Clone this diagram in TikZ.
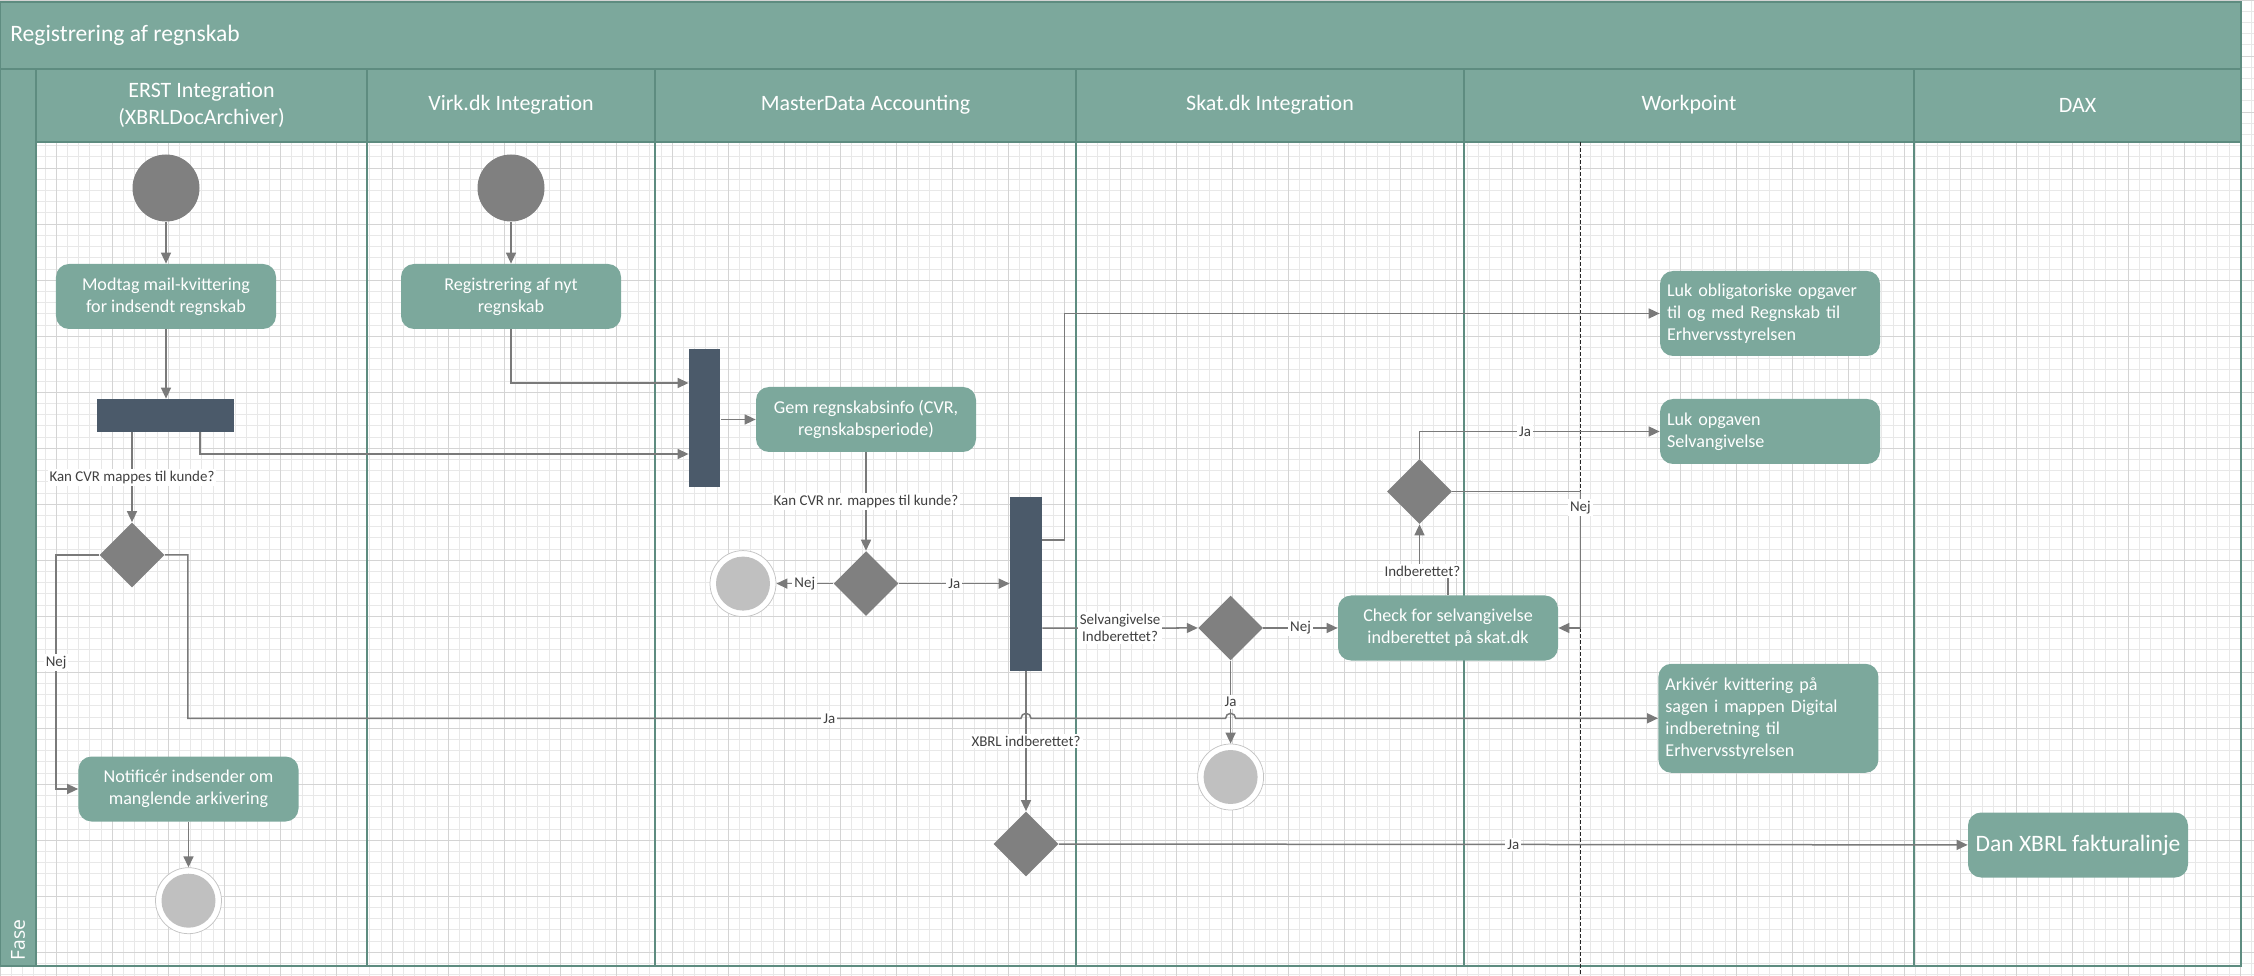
\documentclass[tikz,border=0pt]{standalone}
\usepackage{fontspec}
\setmainfont{Carlito}
\newfontfamily\fasefont{Open Sans}
\usetikzlibrary{shapes.geometric}
\usetikzlibrary{arrows.meta}

\definecolor{headfill}{HTML}{7CA89C}
\definecolor{lanecol}{HTML}{5E8C80}
\definecolor{actfill}{HTML}{7CA89C}
\definecolor{barfill}{HTML}{4B5A6A}
\definecolor{decfill}{HTML}{808080}
\definecolor{stopfill}{HTML}{C0C0C0}
\definecolor{ringcol}{HTML}{C4C4C4}
\definecolor{flowcol}{HTML}{7A7A7A}
\definecolor{guardtext}{HTML}{404040}

\tikzstyle{gridminor}=[draw=black!9,line width=0.12mm,step=2.24mm]
\tikzstyle{gridmajor}=[draw=black!17,line width=0.12mm,step=11.2mm]
\tikzstyle{laneline}=[draw=lanecol,line width=0.35mm]
\tikzstyle{headtext}=[text=white,align=center,font=\fontsize{12.5}{15.5}\selectfont]
\tikzstyle{activity}=[rectangle,rounded corners=2.6mm,fill=actfill,text=white,align=center,minimum width=44mm,minimum height=13mm,inner sep=1mm,font=\fontsize{10.3}{12.5}\selectfont]
\tikzstyle{activityl}=[activity,align=left,text width=41.2mm,inner sep=1.4mm]
\tikzstyle{forkbar}=[rectangle,fill=barfill,inner sep=0]
\tikzstyle{decision}=[diamond,fill=decfill,minimum width=13mm,minimum height=13mm,inner sep=0]
\tikzstyle{startdot}=[circle,fill=decfill,minimum size=13.4mm,inner sep=0]
\tikzstyle{enddot}=[circle,draw=ringcol,fill=white,line width=0.15mm,minimum size=13.2mm,inner sep=0,path picture={\fill[stopfill] (path picture bounding box.center) circle (5.4mm);}]
\tikzstyle{flow}=[draw=flowcol,line width=0.3mm,-{Triangle[length=2.2mm,width=2mm]}]
\tikzstyle{guard}=[fill=white,text=guardtext,inner sep=0.4mm,align=center,font=\fontsize{8.5}{10}\selectfont]

\begin{document}
\begin{tikzpicture}[x=0.2mm,y=-0.2mm]
\useasboundingbox (0,0) rectangle (2254,976);

% grid
\draw[gridminor] (0,0) grid (2254,976);
\draw[gridmajor] (0,0) grid (2254,976);

% pool and lanes
\fill[headfill] (0,2) rectangle (2241,142);
\fill[headfill] (0,69) rectangle (36,966);
\draw[laneline] (0,69) -- (2241,69);
\draw[laneline] (36,142) -- (2241,142);
\draw[laneline] (36,69) -- (36,966);
\draw[laneline] (367,69) -- (367,966);
\draw[laneline] (655,69) -- (655,966);
\draw[laneline] (1076,69) -- (1076,966);
\draw[laneline] (1464,69) -- (1464,966);
\draw[laneline] (1914,69) -- (1914,966);
\draw[laneline] (0,2) rectangle (2241,966);
\draw[black!85,line width=0.15mm,dash pattern=on 0.8mm off 0.4mm] (1580,142) -- (1580,976);

\node[headtext,anchor=west,inner sep=0,font=\fontsize{13.4}{16}\selectfont] (title) at (10,35) {Registrering af regnskab};
\node[headtext] (hErst) at (201.5,105) {ERST Integration\\(XBRLDocArchiver)};
\node[headtext] (hVirk) at (511,105) {Virk.dk Integration};
\node[headtext] (hMaster) at (865.5,105) {MasterData Accounting};
\node[headtext] (hSkat) at (1270,105) {Skat.dk Integration};
\node[headtext] (hWork) at (1689,105) {Workpoint};
\node[headtext] (hDax) at (2077.5,105) {DAX};
\node[text=white,rotate=90,font=\fasefont\fontsize{11}{13}\selectfont] (fase) at (18,940) {Fase};

% ERST Integration
\node[startdot] (erstStart) at (166,188) {};
\node[activity] (modtag) at (166,296.5) {Modtag mail-kvittering\\for indsendt regnskab};
\node[forkbar,minimum width=27.4mm,minimum height=6.6mm] (erstFork) at (165.5,415.5) {};
\node[decision] (cvrDec) at (132,555) {};
\node[activity] (notif) at (188.5,789) {Notificér indsender om\\manglende arkivering};
\node[enddot] (erstEnd) at (188.5,900.7) {};

% Virk.dk Integration
\node[startdot] (virkStart) at (511,188) {};
\node[activity] (regnyt) at (511,296.5) {Registrering af nyt\\regnskab};

% MasterData Accounting
\node[forkbar,minimum width=6.3mm,minimum height=27.6mm] (join) at (704.7,418) {};
\node[activity] (gem) at (866,419.5) {Gem regnskabsinfo (CVR,\\regnskabsperiode)};
\node[decision] (nrDec) at (866,583.6) {};
\node[enddot] (mdEnd) at (743,583.6) {};
\node[forkbar,minimum width=6.4mm,minimum height=34.6mm] (fork2) at (1026,584) {};
\node[decision] (xbrlDec) at (1026,844) {};

% Skat.dk Integration
\node[decision] (selvDec) at (1230.6,628) {};
\node[enddot] (skatEnd) at (1230.6,777) {};
\node[activity] (check) at (1448,628) {Check for selvangivelse\\indberettet på skat.dk};
\node[decision] (indbDec) at (1419.5,491.5) {};

% Workpoint
\node[activityl,minimum height=17mm] (lukObl) at (1770,313.5) {Luk obligatoriske opgaver\\til og med Regnskab til\\Erhvervsstyrelsen};
\node[activityl] (lukSelv) at (1770,431.5) {Luk opgaven\\Selvangivelse};
\node[activityl,minimum height=21.8mm] (arkiv) at (1768.4,718.3) {Arkivér kvittering på\\sagen i mappen Digital\\indberetning til\\Erhvervsstyrelsen};

% DAX
\node[activity,font=\fontsize{13.4}{15}\selectfont] (dan) at (2078,845) {Dan XBRL fakturalinje};

% flows
\draw[flow] (erstStart) -- (modtag);
\draw[flow] (modtag.south) -- (modtag.south |- erstFork.north);
\draw[flow] (virkStart) -- (regnyt);
\draw[flow] (regnyt.south) |- ([yshift=7mm]join.west);
\draw[flow] ([xshift=6.9mm]erstFork.south) |- ([yshift=-7.2mm]join.west);
\draw[flow] (join.east |- gem.west) -- (gem.west);
\draw[flow] (cvrDec.north |- erstFork.south) -- (cvrDec.north) node[guard,pos=0.5] {Kan CVR mappes til kunde?};
\draw[flow] (cvrDec.west) -| ([xshift=-4.4mm]notif.west) node[guard,pos=0.73] {Nej} -- (notif.west);
\draw[flow] (cvrDec.east) -- ++(4.6mm,0) coordinate (jaTurn) -- (jaTurn |- arkiv.west)
  -- ([xshift=-1mm]fork2.south |- arkiv.west) node[guard,pos=0.77] {Ja}
  arc[start angle=180,end angle=0,radius=1mm]
  -- ([xshift=-1mm]selvDec.south |- arkiv.west)
  arc[start angle=180,end angle=0,radius=1mm] -- (arkiv.west);
\draw[flow] (notif) -- (erstEnd);
\draw[flow] (gem) -- (nrDec) node[guard,pos=0.5] {Kan CVR nr. mappes til kunde?};
\draw[flow] (nrDec) -- (mdEnd) node[guard,pos=0.5] {Nej};
\draw[flow] (nrDec.east) -- (fork2.west |- nrDec.east) node[guard,pos=0.5] {Ja};
\draw[flow] ([yshift=8.8mm]fork2.east) -- ++(4.4mm,0) |- (lukObl.west);
\draw[flow] ([yshift=-8.8mm]fork2.east) -- (selvDec.west) node[guard,pos=0.5] {Selvangivelse\\Indberettet?};
\draw[flow] (fork2) -- (xbrlDec) node[guard,pos=0.5] {XBRL indberettet?};
\draw[flow] (xbrlDec) -- (dan) node[guard,pos=0.5] {Ja};
\draw[flow] (selvDec) -- (check) node[guard,pos=0.5] {Nej};
\draw[flow] (selvDec) -- (skatEnd) node[guard,pos=0.5] {Ja};
\draw[flow] (check.north) -- ++(0,4.8mm) -| (indbDec.south) node[guard,pos=0.45] {Indberettet?};
\draw[flow] (indbDec.north) |- (lukSelv.west) node[guard,pos=0.72] {Ja};
\draw[flow] (indbDec.east) -- ++(25.6mm,0) |- (check.east) node[guard,pos=0.06] {Nej};
\end{tikzpicture}
\end{document}
